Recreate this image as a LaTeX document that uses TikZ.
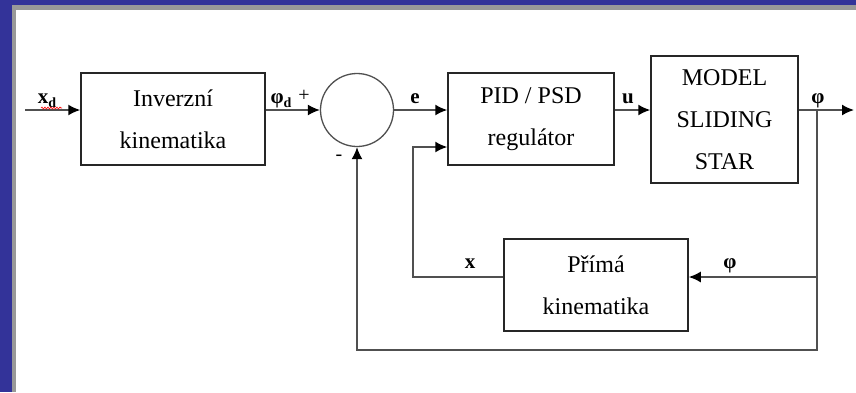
\documentclass[tikz,border=0pt]{standalone}
\usepackage{fontspec}
\setmainfont{Liberation Serif}
\usetikzlibrary{arrows.meta,decorations.pathmorphing}
\definecolor{frameblue}{HTML}{333399}
\definecolor{framegray}{HTML}{999999}
\definecolor{linegray}{HTML}{505050}
\tikzset{
  blockbox/.style={draw=black!85, line width=1.5pt, rectangle, inner sep=0pt, align=center,
    font=\fontsize{24}{42}\selectfont},
  sumnode/.style={draw=linegray, line width=1.3pt, circle, minimum size=73pt, inner sep=0pt},
  conn/.style={draw=linegray, line width=1.6pt, -{Latex[length=12pt,width=11pt,black]}},
  sig/.style={font=\fontsize{21}{21}\selectfont\bfseries, anchor=base, inner sep=0pt},
  signthin/.style={font=\fontsize{20}{20}\selectfont, anchor=base, inner sep=0pt}
}
\begin{document}
\begin{tikzpicture}[x=1pt,y=-1pt]
% frame
\useasboundingbox (0,0) rectangle (856,392);
\fill[frameblue] (0,0) rectangle (856,392);
\fill[framegray] (12,5) rectangle (856,392);
\fill[white] (16,10) rectangle (856,392);

% blocks
\node[blockbox, minimum width=184pt, minimum height=92pt] (inv) at (173,119) {Inverzní\\kinematika};
\node[sumnode] (sum) at (357,110) {};
\node[blockbox, minimum width=166pt, minimum height=92pt] (pid) at (531,119) {PID / PSD\\regulátor};
\node[blockbox, minimum width=147pt, minimum height=127pt] (model) at (724.5,119.5) {MODEL\\SLIDING\\STAR};
\node[blockbox, minimum width=184pt, minimum height=92pt] (pk) at (596,285) {Přímá\\kinematika};

% helper coordinates
\coordinate (xin) at (25,110);
\coordinate (out) at (854,110);
\coordinate (br) at (817,110);
\coordinate (fk) at (817,277);
\coordinate (cbr) at (817,350);
\coordinate (cbl) at (357,350);
\coordinate (xc1) at (413,277);
\coordinate (xc2) at (413,147);

% connectors
\draw[conn] (xin) -- (inv.west |- xin);
\draw[conn] (inv.east |- xin) -- (sum.west);
\draw[conn] (sum.east) -- (pid.west |- sum.east);
\draw[conn] (pid.east |- sum.east) -- (model.west |- sum.east);
\draw[conn] (model.east |- sum.east) -- (out);
\draw[conn] (br) -- (cbr) -- (cbl) -- (sum.south);
\draw[conn] (fk) -- (pk.east |- fk);
\draw[conn] (pk.west |- fk) -- (xc1) -- (xc2) -- (pid.west |- xc2);

% labels
\node[sig] (lxd) at (47,103) {x\raisebox{-4pt}{\fontsize{14}{14}\selectfont d}};
\draw[red, line width=0.6pt, decorate, decoration={snake, amplitude=1pt, segment length=3pt}] (41,108) -- (62,108);
\node[sig] (lphid) at (281,103) {φ\raisebox{-4pt}{\fontsize{14}{14}\selectfont d}};
\node[signthin] (lplus) at (304,101) {+};
\node[signthin] (lminus) at (339,160) {-};
\node[sig] (le) at (415,103) {e};
\node[sig] (lu) at (628,103) {u};
\node[sig] (lphi) at (818,103) {φ};
\node[sig] (lx) at (470,268) {x};
\node[sig] (lphi2) at (730,268) {φ};
\end{tikzpicture}
\end{document}
